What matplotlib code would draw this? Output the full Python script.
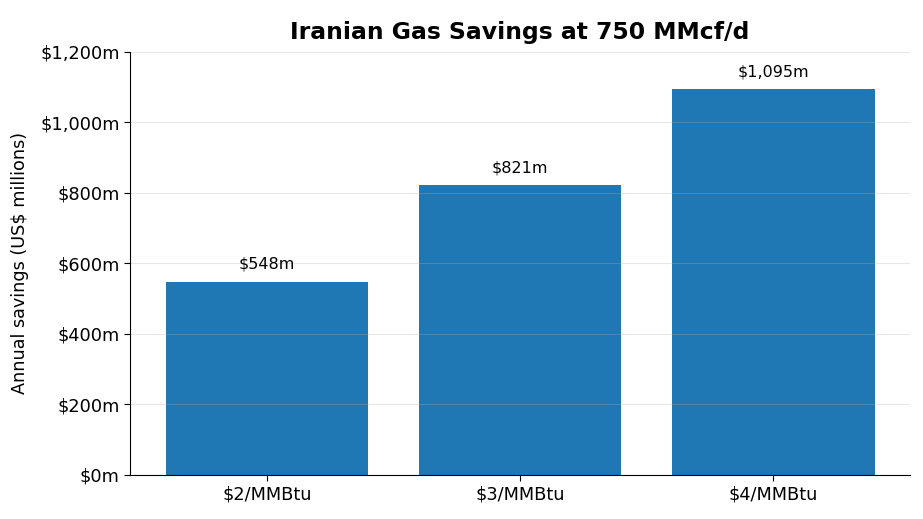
import matplotlib
matplotlib.use("Agg")
from matplotlib import pyplot as plt
from matplotlib.ticker import FuncFormatter

# dati del grafico
prezzi = ["$2/MMBtu", "$3/MMBtu", "$4/MMBtu"]
risparmi = [548, 821, 1095]

fig = plt.figure(figsize=(9.23, 5.19), dpi=100)
ax = fig.add_axes([0.141, 0.085, 0.845, 0.815])

barre = ax.bar(prezzi, risparmi, width=0.8, color="#1f77b4")

# etichette sopra le barre
for b, v in zip(barre, risparmi):
    ax.annotate(f"${v:,.0f}m", (b.get_x() + b.get_width() / 2, v),
                xytext=(0, 7), textcoords="offset points",
                ha="center", va="bottom", fontsize=11.5)

ax.set_ylim(0, 1200)
ax.set_yticks(range(0, 1201, 200))
ax.yaxis.set_major_formatter(FuncFormatter(lambda x, p: f"${x:,.0f}m"))
ax.grid(axis="y", alpha=0.3)
ax.spines["top"].set_visible(False)
ax.spines["right"].set_visible(False)
ax.tick_params(labelsize=12.8, length=4)

ax.set_ylabel("Annual savings (US$ millions)", fontsize=12.7, labelpad=8)
ax.set_title("Iranian Gas Savings at 750 MMcf/d", fontsize=16.9, fontweight="bold", pad=9)

plt.savefig("out.png", dpi=100)
